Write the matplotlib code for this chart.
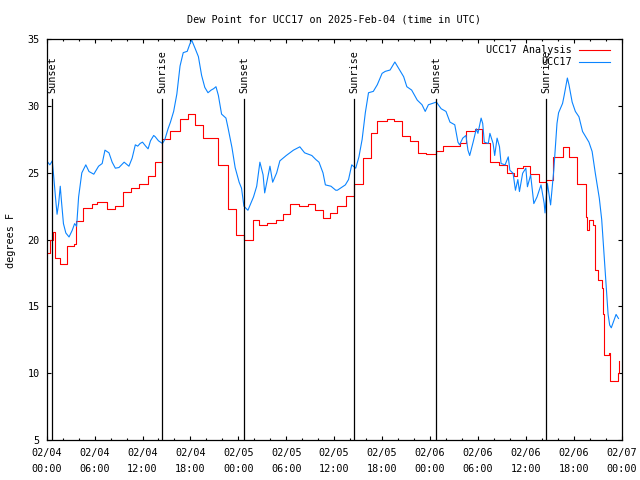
import matplotlib
matplotlib.use("Agg")
import matplotlib.pyplot as plt

# hours since 2025-02-04 00:00 UTC
obs_hours = [0.0, 0.4, 0.7, 0.9, 1.1, 1.3, 1.5, 1.7, 1.85, 2.1, 2.4, 2.8, 3.2, 3.5, 3.75,
             4.0, 4.4, 4.9, 5.3, 5.9, 6.5, 6.95, 7.3, 7.8, 8.2, 8.6, 9.05, 9.7, 10.3, 10.7,
             11.1, 11.4, 11.7, 12.0, 12.4, 12.7, 13.0, 13.4, 13.6, 14.0, 14.5, 14.8, 15.2,
             15.5, 15.9, 16.3, 16.7, 17.1, 17.6, 17.9, 18.15, 18.6, 19.0, 19.4, 19.8, 20.2,
             20.6, 20.9, 21.2, 21.5, 21.9, 22.45, 22.7, 23.2, 23.6, 24.1, 24.4, 24.7, 25.2,
             25.9, 26.3, 26.7, 27.1, 27.3, 27.96, 28.3, 28.8, 29.2, 30.0, 30.9, 31.7, 32.3,
             33.2, 33.7, 34.1, 34.6, 34.9, 35.6, 36.2, 36.4, 37.4, 37.8, 38.2, 38.7, 39.1,
             39.5, 39.9, 40.3, 40.9, 41.4, 42.0, 42.4, 43.0, 43.6, 44.1, 44.7, 45.1, 45.7,
             46.4, 47.0, 47.4, 47.8, 48.3, 48.8, 49.4, 50.0, 50.5, 51.1, 51.5, 51.7, 52.1,
             52.5, 52.75, 52.97, 53.4, 53.8, 54.0, 54.4, 54.6, 54.8, 55.3, 55.5, 55.9, 56.1,
             56.4, 56.7, 56.9, 57.4, 57.8, 58.0, 58.4, 58.7, 59.0, 59.2, 59.6, 60.0, 60.2,
             60.6, 61.0, 61.4, 61.9, 62.3, 62.4, 62.7, 63.1, 63.5, 63.9, 64.1, 64.6, 64.8,
             65.2, 65.4, 65.8, 66.2, 66.65, 67.1, 67.5, 67.9, 68.3, 68.7, 69.2, 69.5, 69.7,
             69.9, 70.1, 70.3, 70.5, 70.7, 71.0, 71.3, 71.6]
obs_dewpt = [25.9, 25.6, 25.9, 24.6, 23.2, 21.9, 22.7, 24.0, 22.9, 21.2, 20.5, 20.2, 20.7, 21.2, 21.0,
             23.2, 25.0, 25.6, 25.1, 24.9, 25.5, 25.7, 26.7, 26.5, 25.8, 25.35, 25.4, 25.8, 25.5, 26.1,
             27.1, 27.0, 27.2, 27.3, 27.0, 26.8, 27.4, 27.8, 27.7, 27.4, 27.2, 27.5, 28.3,
             28.8, 29.6, 30.9, 33.0, 34.0, 34.1, 34.6, 34.95, 34.3, 33.7, 32.3, 31.4, 31.0,
             31.2, 31.3, 31.45, 30.8, 29.4, 29.1, 28.4, 26.9, 25.4, 24.3, 23.85, 22.5, 22.2,
             23.2, 24.0, 25.8, 24.85, 23.5, 25.5, 24.3, 25.0, 25.9, 26.3, 26.7, 26.95, 26.5,
             26.3, 26.0, 25.8, 25.0, 24.1, 24.0, 23.7, 23.7, 24.1, 24.5, 25.6, 25.35, 26.2,
             27.5, 29.5, 31.0, 31.1, 31.6, 32.45, 32.6, 32.7, 33.3, 32.8, 32.2, 31.45, 31.2,
             30.45, 30.1, 29.6, 30.1, 30.2, 30.3, 29.8, 29.6, 28.8, 28.6, 27.3, 27.1, 27.6,
             27.8, 26.7, 26.3, 27.3, 28.3, 27.96, 29.1, 28.7, 27.3, 27.2, 27.96, 27.2, 26.3,
             27.6, 26.96, 25.7, 25.6, 26.2, 25.2, 24.97, 23.7, 24.5, 23.6, 24.97, 25.35, 23.96,
             24.85, 22.7, 23.2, 24.1, 22.7, 22.0, 24.2, 22.6, 25.2, 28.7, 29.5, 30.2, 30.8,
             32.1, 31.6, 30.3, 29.6, 29.2, 28.1, 27.7, 27.3, 26.6, 24.97, 23.1, 21.5, 19.7,
             18.0, 16.0, 14.4, 13.6, 13.4, 13.9, 14.4, 14.1]

ana_hours = [0.0, 0.45, 0.75, 1.0, 1.7, 2.6, 3.4, 3.7, 4.6, 5.7, 6.3, 7.6, 8.6, 9.6, 10.6,
             11.6, 12.7, 13.6, 14.5, 15.5, 16.7, 17.7, 18.6, 19.6, 21.5, 22.7, 23.7, 24.7,
             25.8, 26.6, 27.6, 28.7, 29.6, 30.5, 31.6, 32.7, 33.6, 34.6, 35.5, 36.4, 37.5,
             38.5, 39.6, 40.6, 41.4, 42.6, 43.5, 44.5, 45.5, 46.5, 47.5, 48.8, 49.6, 51.7,
             52.5, 53.6, 54.5, 55.5, 56.6, 57.6, 58.5, 58.9, 59.6, 60.5, 61.6, 62.5, 63.4,
             64.6, 65.4, 66.4, 67.5, 67.7, 67.9, 68.45, 68.7, 69.0, 69.5, 69.7, 69.8, 70.4,
             70.6, 71.5, 71.7]
ana_dewpt = [19.0, 20.0, 20.6, 18.6, 18.2, 19.5, 19.7, 21.4, 22.4, 22.7, 22.8, 22.3, 22.5, 23.6, 23.9,
             24.15, 24.8, 25.8, 27.5, 28.1, 29.0, 29.4, 28.6, 27.6, 25.6, 22.3, 20.35, 20.0,
             21.5, 21.1, 21.25, 21.5, 21.9, 22.7, 22.5, 22.65, 22.25, 21.6, 22.0, 22.5, 23.3,
             24.2, 26.1, 28.0, 28.9, 29.0, 28.9, 27.75, 27.4, 26.5, 26.4, 26.6, 27.0, 27.2,
             28.1, 28.3, 27.2, 25.8, 25.6, 25.0, 24.75, 25.4, 25.5, 24.9, 24.3, 24.5, 26.2,
             26.9, 26.2, 24.2, 21.7, 20.7, 21.5, 21.1, 17.7, 17.0, 16.4, 14.4, 11.4, 11.55,
             9.4, 10.0, 10.9]

event_hours = [0.7, 14.48, 24.75, 38.52, 48.79, 62.56]
event_names = ["Sunset", "Sunrise", "Sunset", "Sunrise", "Sunset", "Sunrise"]

tick_hours = [0, 6, 12, 18, 24, 30, 36, 42, 48, 54, 60, 66, 72]
tick_labels = ["02/04\n00:00", "02/04\n06:00", "02/04\n12:00", "02/04\n18:00",
               "02/05\n00:00", "02/05\n06:00", "02/05\n12:00", "02/05\n18:00",
               "02/06\n00:00", "02/06\n06:00", "02/06\n12:00", "02/06\n18:00",
               "02/07\n00:00"]

plt.rcParams['font.family'] = ['DejaVu Sans Mono']
plt.rcParams['font.size'] = 7.3

fig = plt.figure(figsize=(6.4, 4.8), dpi=100)
ax = fig.add_axes([46.67 / 640, 40 / 480, 575 / 640, 400.7 / 480])

ax.plot(ana_hours, ana_dewpt, color='#ff0000', lw=0.8, drawstyle='steps-post',
        label='UCC17 Analysis')
ax.plot(obs_hours, obs_dewpt, color='#0a84ff', lw=0.8, label='UCC17')

for h, name in zip(event_hours, event_names):
    ax.plot([h, h], [5, 30.53], color='black', lw=0.9)
    ax.text(h, 31.0, name, rotation=90, ha='center', va='bottom')

ax.set_xlim(0, 72)
ax.set_ylim(5, 35)
ax.set_xticks(tick_hours)
ax.set_xticklabels(tick_labels, linespacing=1.7)
ax.set_xticks(range(0, 73, 2), minor=True)
ax.set_yticks([5, 10, 15, 20, 25, 30, 35])
ax.tick_params(which='both', direction='in', top=True, right=True, width=0.8, color='black')
ax.tick_params(which='major', length=3.2)
ax.tick_params(which='minor', length=1.6)
ax.tick_params(axis='y', pad=5)
ax.tick_params(axis='x', pad=6)
for s in ax.spines.values():
    s.set_linewidth(0.9)

fig.text(334 / 640, 1 - 20 / 480, 'Dew Point for UCC17 on 2025-Feb-04 (time in UTC)',
         ha='center', va='center')
fig.text(11 / 640, 0.5, 'degrees F', rotation=90, ha='center', va='center')

ax.legend(loc='upper right', bbox_to_anchor=(1 - 4 / 575, 1 + 2 / 400.7), frameon=False,
          markerfirst=False, handlelength=3.0, handletextpad=0.7, labelspacing=0.2,
          borderaxespad=0.4)

fig.savefig('out.png', dpi=100)
